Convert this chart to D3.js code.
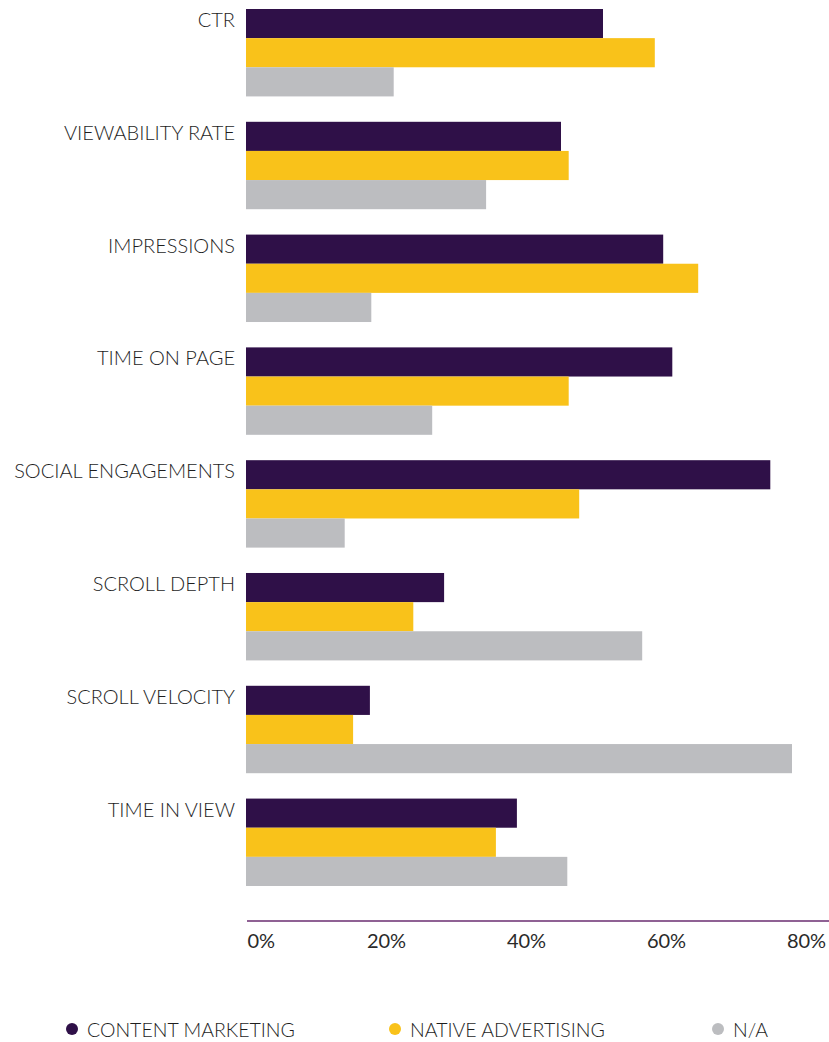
<!DOCTYPE html>
<html lang="en">
<head>
<meta charset="UTF-8">
<title>Metrics bar chart</title>
<style>
  * { margin: 0; padding: 0; }
  body { background: #fff; }
  text { font-family: Lato, "Open Sans", sans-serif; font-weight: 300; fill: #1e1e1e; }
</style>
</head>
<body>
<div id="chart"></div>
<script src="https://cdn.jsdelivr.net/npm/d3@7"></script>
<script>
// categories and series (percent)
var categories = ["CTR", "VIEWABILITY RATE", "IMPRESSIONS", "TIME ON PAGE",
  "SOCIAL ENGAGEMENTS", "SCROLL DEPTH", "SCROLL VELOCITY", "TIME IN VIEW"];
var seriesNames = ["CONTENT MARKETING", "NATIVE ADVERTISING", "N/A"];
var contentMarketing = [51, 45, 59.6, 60.9, 74.9, 28.3, 17.7, 38.7];
var nativeAdvertising = [58.4, 46.1, 64.6, 46.1, 47.6, 23.9, 15.3, 35.7];
var notApplicable = [21.1, 34.3, 17.9, 26.6, 14.1, 56.6, 78, 45.9];
var tickValues = [0, 20, 40, 60, 80];

var colors = ["#2f1048", "#f9c21a", "#bcbdc0"];
var seriesValues = [contentMarketing, nativeAdvertising, notApplicable];

var width = 829, height = 1042;
var svg = d3.select("#chart").append("svg")
  .attr("width", width)
  .attr("height", height);

var x = d3.scaleLinear().domain([0, 80]).range([246, 806]);

var y = d3.scaleBand()
  .domain(categories)
  .range([9, 886])
  .paddingInner(0.225)
  .paddingOuter(0);

var ySub = d3.scaleBand()
  .domain(d3.range(seriesNames.length))
  .range([0, y.bandwidth()]);

// bars
var groups = svg.selectAll("g.cat")
  .data(categories)
  .enter()
  .append("g")
  .attr("class", "cat")
  .attr("transform", function(d) { return "translate(0," + y(d) + ")"; });

groups.selectAll("rect")
  .data(function(d, i) {
    return seriesValues.map(function(s, j) { return { s: j, v: s[i] }; });
  })
  .enter()
  .append("rect")
  .attr("x", x(0))
  .attr("y", function(d) { return ySub(d.s); })
  .attr("width", function(d) { return x(d.v) - x(0); })
  .attr("height", ySub.bandwidth())
  .attr("fill", function(d) { return colors[d.s]; });

// category labels
groups.append("text")
  .attr("x", 235)
  .attr("y", 18)
  .attr("text-anchor", "end")
  .style("font-size", "20px")
  .text(function(d) { return d; });

// x axis
var xAxis = d3.axisBottom(x)
  .tickValues(tickValues)
  .tickSize(0)
  .tickPadding(13)
  .tickFormat(function(d) { return d + "%"; });

var xAxisG = svg.append("g")
  .attr("transform", "translate(0,921)")
  .call(xAxis);

xAxisG.select(".domain").remove();
xAxisG.append("line")
  .attr("x1", 247)
  .attr("x2", 829)
  .attr("stroke", "#6a2c70")
  .attr("stroke-width", 1.5);

xAxisG.selectAll(".tick text")
  .attr("font-family", null)
  .style("font-size", "20px")
  .style("font-weight", "400")
  .style("fill", "#2a2a2a")
  .attr("text-anchor", function(d) { return d === 0 ? "start" : "middle"; })
  .attr("dx", function(d) { return d === 0 ? 1 : 0; });

// legend
var legendX = [72, 395, 718];
var legend = svg.selectAll("g.legend")
  .data(seriesNames)
  .enter()
  .append("g")
  .attr("class", "legend")
  .attr("transform", function(d, i) { return "translate(" + legendX[i] + ",1029)"; });

legend.append("circle")
  .attr("r", 6)
  .attr("fill", function(d, i) { return colors[i]; });

legend.append("text")
  .attr("x", 15)
  .attr("y", 8)
  .style("font-size", "19.5px")
  .text(function(d) { return d; });
</script>
</body>
</html>
